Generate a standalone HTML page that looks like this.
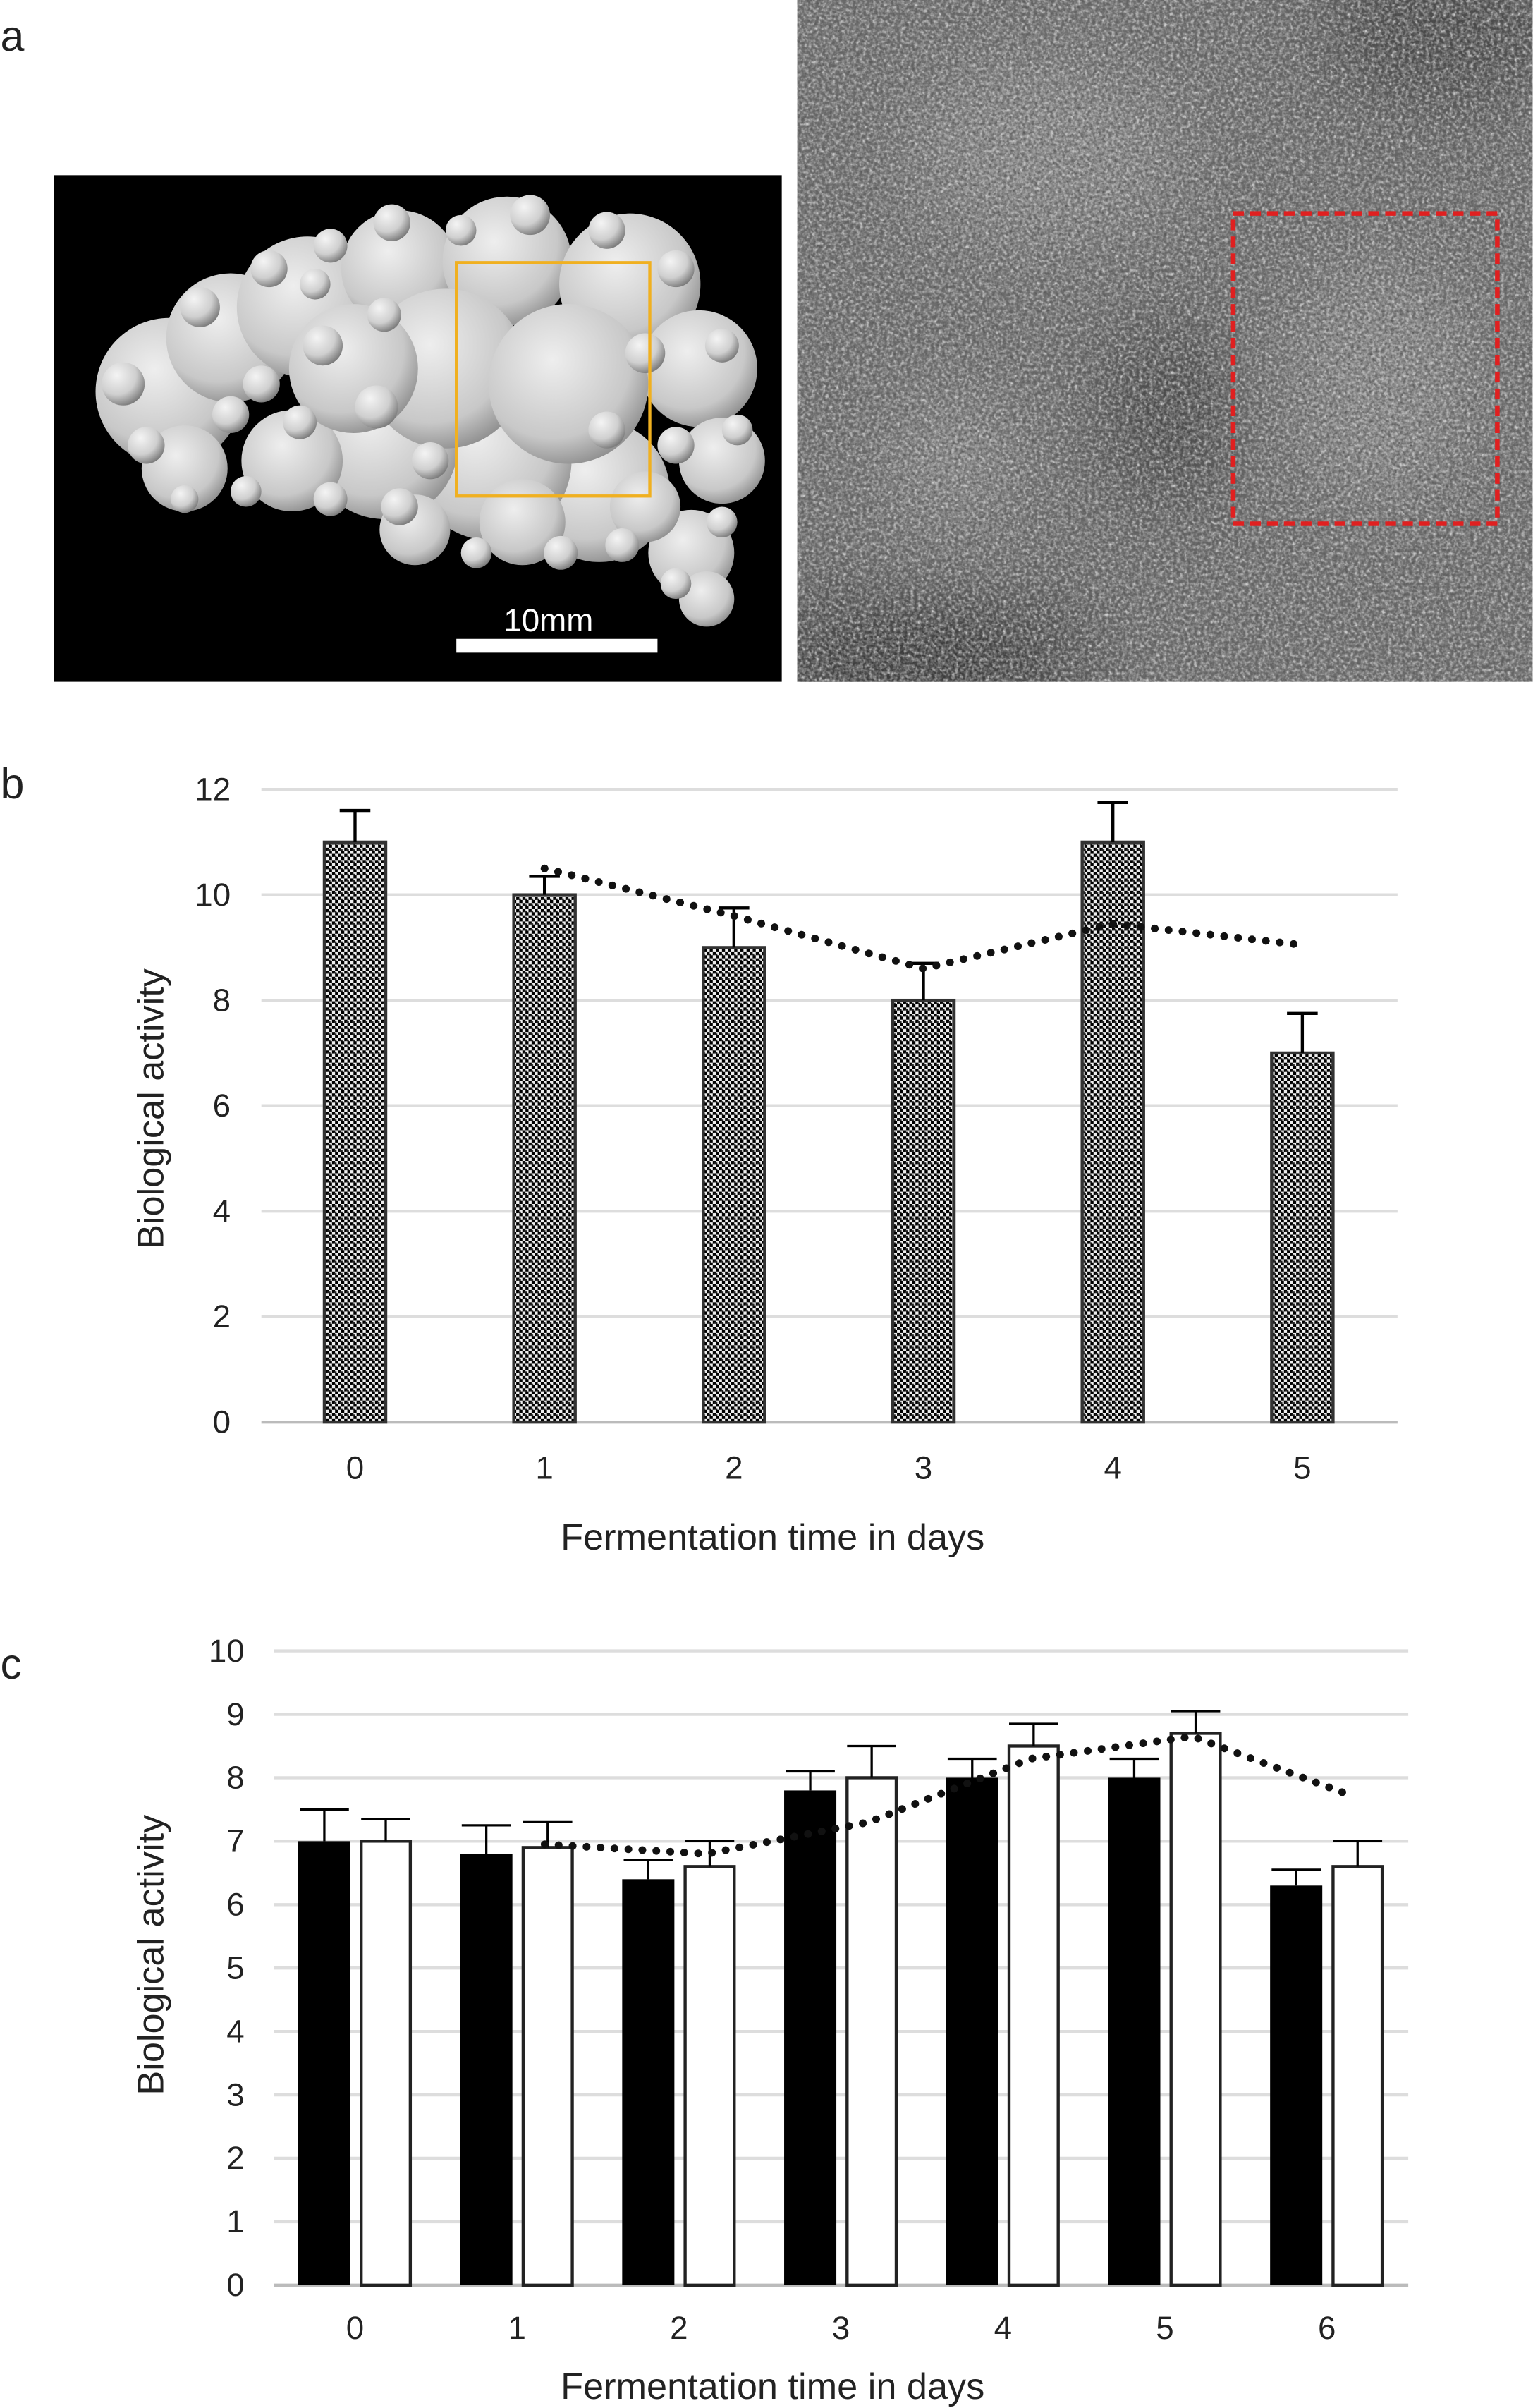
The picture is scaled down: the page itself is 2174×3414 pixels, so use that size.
<!DOCTYPE html>
<html><head><meta charset="utf-8"><style>
html,body{margin:0;padding:0;background:#fff}
svg{display:block}
text{font-family:"Liberation Sans",sans-serif;fill:#222}
</style></head><body>
<svg id="fig" width="2174" height="3414" viewBox="0 0 998 1568" xmlns="http://www.w3.org/2000/svg">
<defs>
<pattern id="hatch" width="4" height="4" patternUnits="userSpaceOnUse">
<rect width="4" height="4" fill="#eee"/>
<rect x="0" y="0" width="2" height="2" fill="#000"/>
<rect x="2" y="2" width="2" height="2" fill="#000"/>
<rect x="1" y="1" width="2" height="1" fill="#222"/>
</pattern>
<clipPath id="clipR"><rect x="519" y="0" width="479" height="444"/></clipPath>
<clipPath id="clipL"><rect x="35" y="114" width="474" height="330"/></clipPath>
<filter id="noise" x="0" y="0" width="100%" height="100%">
<feTurbulence type="fractalNoise" baseFrequency="0.45" numOctaves="2" seed="3"/>
<feColorMatrix type="matrix" values="0 0 0 0 0.62  0 0 0 0 0.62  0 0 0 0 0.62  2 0 0 0 -0.7"/>
</filter>
<filter id="noise2" x="0" y="0" width="100%" height="100%">
<feTurbulence type="fractalNoise" baseFrequency="0.5" numOctaves="2" seed="7"/>
<feColorMatrix type="matrix" values="0 0 0 0 0.1  0 0 0 0 0.1  0 0 0 0 0.1  2 0 0 0 -0.75"/>
</filter>
<filter id="blur6"><feGaussianBlur stdDeviation="25"/></filter>
<radialGradient id="blob" cx="0.4" cy="0.35" r="0.7">
<stop offset="0" stop-color="#eee"/><stop offset="0.7" stop-color="#c8c8c8"/><stop offset="1" stop-color="#8a8a8a"/>
</radialGradient>
<radialGradient id="lump" cx="0.35" cy="0.3" r="0.75">
<stop offset="0" stop-color="#f4f4f4"/><stop offset="0.6" stop-color="#cfcfcf"/><stop offset="1" stop-color="#777"/>
</radialGradient>
</defs>

<text x="0" y="33" font-size="28">a</text>
<g clip-path="url(#clipL)">
<rect x="35" y="114" width="474" height="330" fill="#000"/>
<g fill="url(#blob)">
<circle cx="110" cy="255" r="48"/><circle cx="150" cy="220" r="42"/><circle cx="200" cy="200" r="46"/>
<circle cx="260" cy="175" r="38"/><circle cx="330" cy="170" r="42"/><circle cx="410" cy="185" r="46"/>
<circle cx="455" cy="240" r="38"/><circle cx="470" cy="300" r="28"/><circle cx="450" cy="360" r="28"/>
<circle cx="460" cy="390" r="18"/><circle cx="390" cy="320" r="46"/><circle cx="320" cy="300" r="52"/>
<circle cx="250" cy="290" r="48"/><circle cx="190" cy="300" r="33"/><circle cx="120" cy="305" r="28"/>
<circle cx="290" cy="240" r="52"/><circle cx="370" cy="250" r="52"/><circle cx="230" cy="240" r="42"/>
<circle cx="340" cy="340" r="28"/><circle cx="270" cy="345" r="23"/><circle cx="420" cy="330" r="23"/>
</g>
<g fill="url(#lump)">
<circle cx="80" cy="250" r="14"/><circle cx="95" cy="290" r="12"/><circle cx="130" cy="200" r="13"/><circle cx="175" cy="175" r="12"/>
<circle cx="215" cy="160" r="11"/><circle cx="255" cy="145" r="12"/><circle cx="300" cy="150" r="10"/><circle cx="345" cy="140" r="13"/>
<circle cx="395" cy="150" r="12"/><circle cx="440" cy="175" r="12"/><circle cx="470" cy="225" r="11"/><circle cx="480" cy="280" r="10"/>
<circle cx="470" cy="340" r="10"/><circle cx="440" cy="380" r="10"/><circle cx="405" cy="355" r="11"/><circle cx="365" cy="360" r="11"/>
<circle cx="310" cy="360" r="10"/><circle cx="260" cy="330" r="12"/><circle cx="215" cy="325" r="11"/><circle cx="160" cy="320" r="10"/>
<circle cx="120" cy="325" r="9"/><circle cx="170" cy="250" r="12"/><circle cx="210" cy="225" r="13"/><circle cx="250" cy="205" r="11"/>
<circle cx="245" cy="265" r="14"/><circle cx="195" cy="275" r="11"/><circle cx="150" cy="270" r="12"/><circle cx="420" cy="230" r="13"/>
<circle cx="440" cy="290" r="12"/><circle cx="395" cy="280" r="12"/><circle cx="205" cy="185" r="10"/><circle cx="280" cy="300" r="12"/>
</g>
<rect x="297" y="171" width="126" height="152" fill="none" stroke="#f0b020" stroke-width="2"/>
<rect x="297" y="416" width="131" height="9" fill="#fff"/>
<text x="357" y="411" font-size="21" style="fill:#fff" text-anchor="middle">10mm</text>
</g>
<g clip-path="url(#clipR)">
<rect x="519" y="0" width="479" height="444" fill="#6e6e6e"/>
<g filter="url(#blur6)" opacity="0.6">
<ellipse cx="760" cy="270" rx="45" ry="60" fill="#2a2a2a"/>
<ellipse cx="940" cy="20" rx="80" ry="50" fill="#2a2a2a"/>
<ellipse cx="600" cy="430" rx="110" ry="40" fill="#111"/>
<ellipse cx="680" cy="100" rx="90" ry="60" fill="#a0a0a0"/>
<ellipse cx="900" cy="250" rx="60" ry="80" fill="#a0a0a0"/>
<ellipse cx="620" cy="300" rx="40" ry="40" fill="#a8a8a8"/>
</g>
<rect x="519" y="0" width="479" height="444" filter="url(#noise)"/>
<rect x="519" y="0" width="479" height="444" filter="url(#noise2)"/>
<rect x="803" y="139" width="172" height="202" fill="none" stroke="#e02020" stroke-width="3" stroke-dasharray="7,4"/>
</g>

<text x="0" y="520" font-size="28">b</text>
<g id="chartB"></g>
<text x="0" y="1093" font-size="28">c</text>
<g id="chartC"></g>
</svg>
<script>
const NS='http://www.w3.org/2000/svg';
// Chart b data
const bCats=['0','1','2','3','4','5'];
const bValues=[11,10,9,8,11,7];
const bErrTop=[11.6,10.35,9.75,8.7,11.75,7.75];
const bTrend=[null,10.5,9.6,8.6,9.45,9.05];
const bTicks=[0,2,4,6,8,10,12];
// Chart c data
const cCats=['0','1','2','3','4','5','6'];
const cBlack=[7,6.8,6.4,7.8,8.0,8.0,6.3];
const cBlackErr=[7.5,7.25,6.7,8.1,8.3,8.3,6.55];
const cWhite=[7.0,6.9,6.6,8.0,8.5,8.7,6.6];
const cWhiteErr=[7.35,7.3,7.0,8.5,8.85,9.05,7.0];
const cTrend=[null,6.95,6.8,7.3,8.3,8.65,7.7];
const cTicks=[0,1,2,3,4,5,6,7,8,9,10];

function mk(parent,tag,attrs,text){const e=document.createElementNS(NS,tag);for(const k in attrs)e.setAttribute(k,attrs[k]);if(text!==undefined)e.textContent=text;parent.appendChild(e);return e;}

// ---- chart b
(function(){
const g=document.getElementById('chartB');
const y0=926,y1=514,vmax=12,x0=170,x1=910;
const y=v=>y0-(v/vmax)*(y0-y1);
const x=i=>231+i*123.4;
bTicks.forEach(t=>{
  const l=mk(g,'line',{x1:x0,x2:x1,y1:y(t),y2:y(t),stroke:t===0?'#bbb':'#ddd','stroke-width':2});
  
  
  const tx=mk(g,'text',{x:150,y:y(t)+7,'font-size':21,'text-anchor':'end'},t);
  
  
});
bCats.forEach((c,i)=>{
  const r=mk(g,'rect',{x:x(i)-20,y:y(bValues[i]),width:40,height:y(0)-y(bValues[i]),fill:'url(#hatch)',stroke:'#333','stroke-width':2});
  
  
  const e=mk(g,'path',{d:`M${x(i)} ${y(bValues[i])}V${y(bErrTop[i])}M${x(i)-10} ${y(bErrTop[i])}H${x(i)+10}`,stroke:'#000','stroke-width':2,fill:'none'});
  
  
  const t=mk(g,'text',{x:x(i),y:963,'font-size':21,'text-anchor':'middle'},c);
  
  
});
let d='';bTrend.forEach((v,i)=>{if(v!==null)d+=(d?'L':'M')+x(i)+' '+y(v);});
const p=mk(g,'path',{d:d,stroke:'#111','stroke-width':5,'stroke-dasharray':'0.1,9','stroke-linecap':'round',fill:'none'});


const yt=mk(g,'text',{x:0,y:0,'font-size':24,'text-anchor':'middle',transform:'translate(106 722) rotate(-90)'},'Biological activity');


const xt=mk(g,'text',{x:503,y:1009,'font-size':24,'text-anchor':'middle'},'Fermentation time in days');


})();

// ---- chart c
(function(){
const g=document.getElementById('chartC');
const y0=1488,y1=1075,vmax=10,x0=178,x1=917;
const y=v=>y0-(v/vmax)*(y0-y1);
const x=i=>231+i*105.5;
cTicks.forEach(t=>{
  const l=mk(g,'line',{x1:x0,x2:x1,y1:y(t),y2:y(t),stroke:t===0?'#bbb':'#ddd','stroke-width':2});
  
  
  const tx=mk(g,'text',{x:159,y:y(t)+7,'font-size':21,'text-anchor':'end'},t);
  
  
});
cCats.forEach((c,i)=>{
  const bx=x(i)-20,wx=x(i)+20;
  const r1=mk(g,'rect',{x:bx-17,y:y(cBlack[i]),width:34,height:y(0)-y(cBlack[i]),fill:'#000'});
  
  
  const r2=mk(g,'rect',{x:wx-16,y:y(cWhite[i]),width:32,height:y(0)-y(cWhite[i]),fill:'#fff',stroke:'#222','stroke-width':2});
  
  
  const e1=mk(g,'path',{d:`M${bx} ${y(cBlack[i])}V${y(cBlackErr[i])}M${bx-16} ${y(cBlackErr[i])}H${bx+16}`,stroke:'#000','stroke-width':1.5,fill:'none'});
  
  
  const e2=mk(g,'path',{d:`M${wx} ${y(cWhite[i])}V${y(cWhiteErr[i])}M${wx-16} ${y(cWhiteErr[i])}H${wx+16}`,stroke:'#000','stroke-width':1.5,fill:'none'});
  
  
  const t=mk(g,'text',{x:x(i),y:1523,'font-size':21,'text-anchor':'middle'},c);
  
  
});
let d='';cTrend.forEach((v,i)=>{if(v!==null)d+=(d?'L':'M')+(x(i)+18)+' '+y(v);});
const p=mk(g,'path',{d:d,stroke:'#111','stroke-width':5,'stroke-dasharray':'0.1,9','stroke-linecap':'round',fill:'none'});


const yt=mk(g,'text',{x:0,y:0,'font-size':24,'text-anchor':'middle',transform:'translate(106 1273) rotate(-90)'},'Biological activity');


const xt=mk(g,'text',{x:503,y:1562,'font-size':24,'text-anchor':'middle'},'Fermentation time in days');


})();
</script>
</body></html>
